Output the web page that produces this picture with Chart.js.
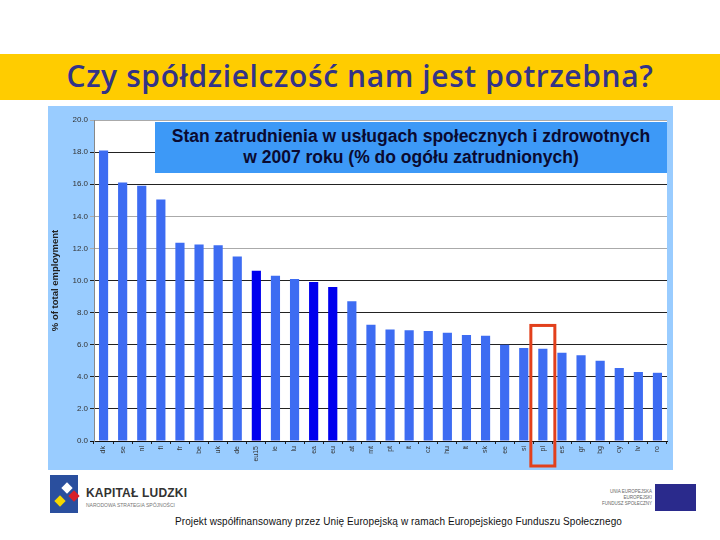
<!DOCTYPE html>
<html>
<head>
<meta charset="utf-8">
<script src="https://cdn.jsdelivr.net/npm/chart.js@4"></script>
<style>
  body { margin: 0; width: 720px; height: 540px; background: #fff; position: relative; overflow: hidden; font-family: "Liberation Sans", Arial, sans-serif; }
  #band { position: absolute; left: 0; top: 54px; width: 720px; height: 46px; background: #ffcc00; }
  #band h1 { margin: 0; text-align: center; font-family: "Open Sans", sans-serif; font-weight: 600; font-size: 30px; line-height: 44px; color: #333388; letter-spacing: 0.6px; }
  #panel { position: absolute; left: 48px; top: 106px; width: 625px; height: 364px; background: #99ccff; }
  #chartTitle { position: absolute; left: 155px; top: 122px; width: 512px; height: 51px; background: #3d99f7; color: #0a0a30; font-weight: bold; font-size: 17.5px; line-height: 21px; text-align: center; padding-top: 4px; box-sizing: border-box; }
  #kl { position: absolute; left: 50px; top: 475px; width: 28px; height: 38px; background: #2a4f9e; }
  .star { position: absolute; width: 8px; height: 8px; transform: rotate(45deg); }
  #klText { position: absolute; left: 86px; top: 486px; font-size: 12px; font-weight: bold; color: #333; letter-spacing: 0.2px; }
  #klSub { position: absolute; left: 86px; top: 502px; font-size: 5px; color: #777; }
  #ueText { position: absolute; left: 586px; top: 489px; width: 66px; font-size: 4.5px; line-height: 6px; color: #666; text-align: right; }
  #flag { position: absolute; left: 655px; top: 484px; width: 41px; height: 27px; background: #2a2a8c; }
  #footer { position: absolute; left: 0; top: 516px; width: 797px; text-align: center; font-size: 10px; color: #111; letter-spacing: 0.1px; }
</style>
</head>
<body>
<div id="band"><h1>Czy spółdzielczość nam jest potrzebna?</h1></div>
<div id="panel"><canvas id="c" width="625" height="364"></canvas></div>
<div id="chartTitle">Stan zatrudnienia w usługach społecznych i zdrowotnych<br>w 2007 roku (% do ogółu zatrudnionych)</div>
<div id="kl"></div>
<div class="star" style="left:63px;top:484px;background:#fff"></div>
<div class="star" style="left:70px;top:492px;background:#d8202a"></div>
<div class="star" style="left:56px;top:497px;background:#f5d800"></div>
<div id="klText">KAPITAŁ LUDZKI</div>
<div id="klSub">NARODOWA STRATEGIA SPÓJNOŚCI</div>
<div id="ueText">UNIA EUROPEJSKA<br>EUROPEJSKI<br>FUNDUSZ SPOŁECZNY</div>
<div id="flag"></div>
<div id="footer">Projekt współfinansowany przez Unię Europejską w ramach Europejskiego Funduszu Społecznego</div>
<script>
// countries, sorted by share of employment
const countries = ['dk', 'se', 'nl', 'fi', 'fr', 'be', 'uk', 'de', 'eu15', 'ie', 'lu', 'ea', 'eu', 'at', 'mt',
  'pt', 'it', 'cz', 'hu', 'lt', 'sk', 'ee', 'si', 'pl', 'es', 'gr', 'bg', 'cy', 'lv', 'ro'];
const shares = [18.1, 16.1, 15.9, 15.05, 12.35, 12.25, 12.2, 11.5, 10.6, 10.3, 10.1, 9.9, 9.6, 8.7, 7.25,
  6.95, 6.9, 6.85, 6.75, 6.6, 6.55, 6.0, 5.8, 5.75, 5.5, 5.35, 5.0, 4.55, 4.3, 4.25];
const aggregates = ['eu15', 'ea', 'eu'];
const highlighted = 'pl';
const yTicks = [0, 2, 4, 6, 8, 10, 12, 14, 16, 18, 20];

// red frame around the highlighted country
const framePlugin = {
  id: 'frame',
  afterDraw(chart) {
    const ctx = chart.ctx;
    const i = countries.indexOf(highlighted);
    const x = chart.scales.x.getPixelForValue(i);
    const top = chart.scales.y.getPixelForValue(7.2);
    const bottom = chart.height - 4;
    ctx.save();
    ctx.strokeStyle = '#e2401c';
    ctx.lineWidth = 3;
    ctx.strokeRect(x - 12, top, 24, bottom - top);
    ctx.restore();
  }
};

const whitePlot = {
  id: 'whitePlot',
  beforeDraw(chart) {
    const a = chart.chartArea;
    chart.ctx.fillStyle = '#fff';
    chart.ctx.fillRect(a.left, a.top, a.right - a.left, a.bottom - a.top);
  }
};

new Chart(document.getElementById('c'), {
  type: 'bar',
  data: {
    labels: countries,
    datasets: [{
      data: shares,
      backgroundColor: countries.map(c => aggregates.includes(c) ? '#0000ee' : '#3d6cf2'),
      categoryPercentage: 1,
      barPercentage: 0.48
    }]
  },
  options: {
    responsive: false,
    animation: false,
    layout: { padding: { top: 14, right: 6, left: 0, bottom: 0 } },
    plugins: { legend: { display: false }, tooltip: { enabled: false } },
    scales: {
      x: {
        grid: { drawOnChartArea: false, color: '#222', tickLength: 3 },
        border: { color: '#111', width: 1 },
        ticks: { minRotation: 90, maxRotation: 90, color: '#333', font: { size: 7, family: 'Liberation Sans' }, padding: 2 },
        afterFit(s) { s.height = 29; }
      },
      y: {
        min: 0, max: 20,
        afterBuildTicks(s) { s.ticks = yTicks.map(v => ({ value: v })); },
        grid: {
          color: ctx => {
            const v = ctx.tick && ctx.tick.value;
            if (v === 0) return '#111';
            if (v === 12 || v === 14 || v === 20) return '#aaaaaa';
            return '#222';
          },
          tickLength: 4
        },
        border: { color: '#888' },
        ticks: { callback: v => v.toFixed(1), color: '#333', font: { size: 8, family: 'Liberation Sans' }, padding: 2 },
        title: { display: true, text: '% of total employment', color: '#222', font: { size: 9.5, weight: 'bold', family: 'Liberation Sans' }, padding: 2 },
        afterFit(s) { s.width = 46; }
      }
    }
  },
  plugins: [whitePlot, framePlugin]
});
</script>
</body>
</html>
